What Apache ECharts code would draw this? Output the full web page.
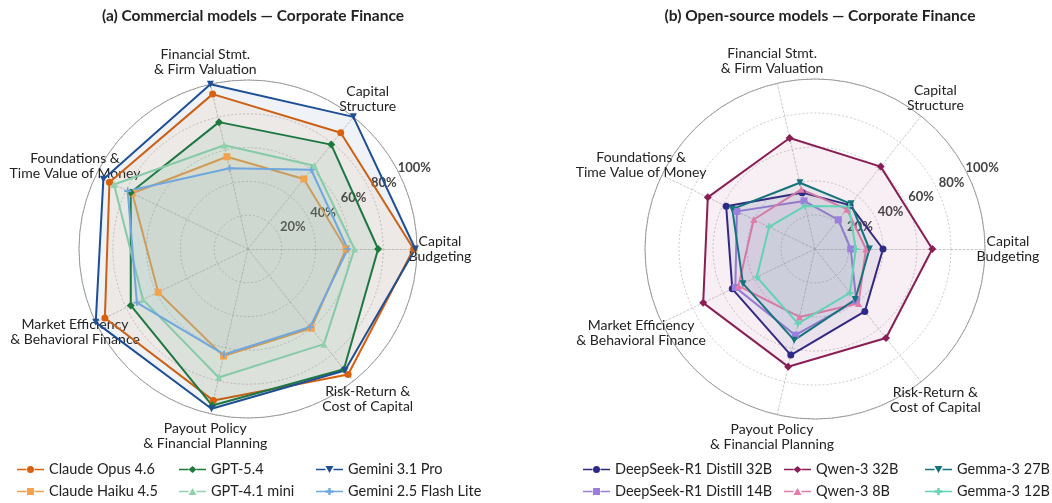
<!DOCTYPE html>
<html>
<head>
<meta charset="UTF-8">
<title>Corporate Finance radar</title>
<script src="https://cdn.jsdelivr.net/npm/echarts@6/dist/echarts.min.js"></script>
<style>
  html, body { margin: 0; padding: 0; background: #fff; }
  #main { width: 1052px; height: 503px; }
</style>
</head>
<body>
<div id="main"></div>
<script>
// axes of both radars (counter-clockwise from the right)
var categories = [
  'Capital\nBudgeting',
  'Capital\nStructure',
  'Financial Stmt.\n& Firm Valuation',
  'Foundations &\nTime Value of Money',
  'Market Efficiency\n& Behavioral Finance',
  'Payout Policy\n& Financial Planning',
  'Risk-Return &\nCost of Capital'
];
var ringLabels = ['20%', '40%', '60%', '80%', '100%'];

// (a) commercial models, % correct
var claudeOpus = [98, 88, 94, 91, 94, 92, 95];
var claudeHaiku = [58, 53, 56, 76, 59, 65, 60];
var gpt54 = [77, 79, 77, 77, 77, 95, 91];
var gpt41mini = [63, 63, 63, 88, 69, 78, 72];
var gemini31pro = [99, 100, 100, 95, 100, 97, 92];
var gemini25flash = [59, 60, 49, 79, 73, 64, 59];

// (b) open-source models, % correct
var deepseek32 = [40, 33, 34, 58, 54, 64, 47];
var deepseek14 = [21, 22, 29, 51, 52, 52, 39];
var qwen32 = [69, 62, 67, 70, 73, 71, 67];
var qwen8 = [30, 30, 36, 40, 50, 41, 41];
var gemma27 = [32, 34, 40, 54, 47, 55, 38];
var gemma12 = [24, 32, 26, 30, 38, 45, 33];

var FONT = 'Lato';

// marker shapes
var MK = {
  circle: 'circle',
  square: 'rect',
  diamond: 'diamond',
  triUp: 'triangle',
  triDown: 'path://M0,0L10,0L5,9Z',
  plus: 'path://M3.8,0H6.2V3.8H10V6.2H6.2V10H3.8V6.2H0V3.8H3.8Z'
};
// legend icons: short line with the marker in the middle (27 x 7 box)
var BAR = 'M0,2.7H9.5V4.3H0Z M17.5,2.7H27V4.3H17.5Z ';
var LG = {
  circle: BAR + 'M10,3.5A3.5,3.5 0 1,0 17,3.5A3.5,3.5 0 1,0 10,3.5Z',
  square: BAR + 'M10,0H17V7H10Z',
  diamond: BAR + 'M13.5,0L17.5,3.5L13.5,7L9.5,3.5Z',
  triUp: BAR + 'M13.5,0L17.5,7H9.5Z',
  triDown: BAR + 'M9.5,0H17.5L13.5,7Z',
  plus: BAR + 'M12.3,0H14.7V2.3H17.5V4.7H14.7V7H12.3V4.7H9.5V2.3H12.3Z'
};

var leftModels = [
  { name: 'Claude Opus 4.6', values: claudeOpus, color: '#d9610d', mk: 'circle' },
  { name: 'Claude Haiku 4.5', values: claudeHaiku, color: '#f4a24c', mk: 'square' },
  { name: 'GPT-5.4', values: gpt54, color: '#1d7a3c', mk: 'diamond' },
  { name: 'GPT-4.1 mini', values: gpt41mini, color: '#8fd3aa', mk: 'triUp' },
  { name: 'Gemini 3.1 Pro', values: gemini31pro, color: '#1f4f94', mk: 'triDown' },
  { name: 'Gemini 2.5 Flash Lite', values: gemini25flash, color: '#6fa7de', mk: 'plus' }
];
var rightModels = [
  { name: 'DeepSeek-R1 Distill 32B', values: deepseek32, color: '#2d2a86', mk: 'circle' },
  { name: 'DeepSeek-R1 Distill 14B', values: deepseek14, color: '#9a80dc', mk: 'square' },
  { name: 'Qwen-3 32B', values: qwen32, color: '#8a1f56', mk: 'diamond' },
  { name: 'Qwen-3 8B', values: qwen8, color: '#e57aa8', mk: 'triUp' },
  { name: 'Gemma-3 27B', values: gemma27, color: '#15737b', mk: 'triDown' },
  { name: 'Gemma-3 12B', values: gemma12, color: '#62d3b5', mk: 'plus' }
];

var indicators = categories.map(function (c) { return { name: c, min: 0, max: 100 }; });

function gridRadar(center, radius) {
  return {
    center: center, radius: radius, startAngle: 0, shape: 'circle', splitNumber: 5,
    indicator: indicators,
    nameGap: 23,
    axisName: { color: '#222', fontFamily: FONT, fontSize: 14, lineHeight: 15, align: 'center', verticalAlign: 'middle' },
    splitLine: { lineStyle: { color: '#bdbdbd', type: [2, 2], width: 0.8 } },
    splitArea: { show: false },
    axisLine: { lineStyle: { color: '#bdbdbd', type: [2, 2], width: 0.8 } },
    axisTick: { show: false },
    axisLabel: { show: false }
  };
}
function outerRadar(center, radius) {
  return {
    center: center, radius: radius, startAngle: 0, shape: 'circle', splitNumber: 1,
    indicator: indicators,
    axisName: { show: false },
    splitLine: { lineStyle: { color: '#9a9a9a', width: 1 } },
    splitArea: { show: false },
    axisLine: { show: false },
    axisTick: { show: false },
    axisLabel: { show: false }
  };
}

function makeSeries(models, radarIndex) {
  return models.map(function (m) {
    return {
      type: 'radar', name: m.name, radarIndex: radarIndex,
      symbol: MK[m.mk], symbolSize: m.mk === 'diamond' ? 8 : 7,
      lineStyle: { color: m.color, width: 2 },
      itemStyle: { color: m.color },
      areaStyle: { color: m.color, opacity: 0.07 },
      data: [{ name: m.name, value: m.values }]
    };
  });
}

function legendCol(models, left) {
  return {
    orient: 'vertical', left: left, top: 462,
    itemWidth: 27, itemHeight: 7, itemGap: 7,
    padding: 0,
    textStyle: { color: '#222', fontFamily: FONT, fontSize: 14.5, lineHeight: 15 },
    itemStyle: { borderWidth: 0 },
    data: models.map(function (m) { return { name: m.name, icon: 'path://' + LG[m.mk] }; })
  };
}

function ringAxis(polarIndex) {
  return {
    polarIndex: polarIndex, type: 'value', min: 0, max: 100, interval: 20,
    axisLine: { show: false }, axisTick: { show: false }, splitLine: { show: false },
    axisLabel: {
      margin: 0, align: 'center', verticalAlign: 'middle',
      color: '#444', fontFamily: FONT, fontSize: 13, fontWeight: 'bold',
      formatter: function (v) { return v === 0 ? '' : ringLabels[v / 20 - 1]; }
    }
  };
}

var LC = [248, 249], RC = [815, 249];
// ring labels sit a little outside each ring, along the 26 degree direction
var dx = 16 * Math.cos(26 * Math.PI / 180), dy = 16 * Math.sin(26 * Math.PI / 180);

var chart = echarts.init(document.getElementById('main'), null, { renderer: 'canvas' });
chart.setOption({
  animation: false,
  title: [
    { text: '(a) Commercial models — Corporate Finance', left: LC[0], top: 3, textAlign: 'center',
      textStyle: { fontFamily: FONT, fontSize: 15.5, fontWeight: 'bold', color: '#222' } },
    { text: '(b) Open-source models — Corporate Finance', left: RC[0], top: 3, textAlign: 'center',
      textStyle: { fontFamily: FONT, fontSize: 15.5, fontWeight: 'bold', color: '#222' } }
  ],
  radar: [gridRadar(LC, 169), outerRadar(LC, 169), gridRadar(RC, 170), outerRadar(RC, 170)],
  polar: [
    { center: [LC[0] + dx, LC[1] - dy], radius: 169 },
    { center: [RC[0] + dx, RC[1] - dy], radius: 170 }
  ],
  angleAxis: [
    { polarIndex: 0, type: 'value', min: 0, max: 360, startAngle: 26, show: false },
    { polarIndex: 1, type: 'value', min: 0, max: 360, startAngle: 26, show: false }
  ],
  radiusAxis: [ringAxis(0), ringAxis(1)],
  legend: [
    legendCol([leftModels[0], leftModels[1]], 17),
    legendCol([leftModels[2], leftModels[3]], 179),
    legendCol([leftModels[4], leftModels[5]], 316),
    legendCol([rightModels[0], rightModels[1]], 583),
    legendCol([rightModels[2], rightModels[3]], 784),
    legendCol([rightModels[4], rightModels[5]], 925)
  ],
  series: makeSeries(leftModels, 0).concat(makeSeries(rightModels, 2))
});
</script>
</body>
</html>
